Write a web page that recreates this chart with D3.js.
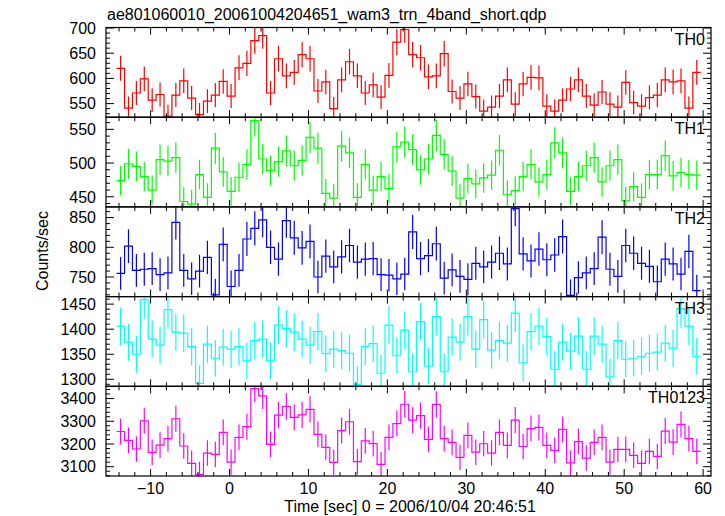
<!DOCTYPE html>
<html>
<head>
<meta charset="utf-8">
<script src="https://cdn.jsdelivr.net/npm/d3@7"></script>
<style>
  html, body { margin: 0; padding: 0; background: #fff; }
  svg { display: block; font-family: "Liberation Sans", Arial, sans-serif; }
</style>
</head>
<body>
<svg id="chart" width="725" height="516"></svg>
<script>
// ---- data ----
const title = "ae801060010_20061004204651_wam3_trn_4band_short.qdp";
const xLabel = "Time [sec] 0 = 2006/10/04 20:46:51";
const yLabel = "Counts/sec";
const timeCenters = [-13.8,-12.8,-11.8,-10.8,-9.8,-8.8,-7.8,-6.8,-5.8,-4.8,-3.8,-2.8,-1.8,-0.8,0.2,1.2,2.2,3.2,4.2,5.2,
  6.2,7.2,8.2,9.2,10.2,11.2,12.2,13.2,14.2,15.2,16.2,17.2,18.2,19.2,20.2,21.2,22.2,23.2,24.2,25.2,
  26.2,27.2,28.2,29.2,30.2,31.2,32.2,33.2,34.2,35.2,36.2,37.2,38.2,39.2,40.2,41.2,42.2,43.2,44.2,45.2,
  46.2,47.2,48.2,49.2,50.2,51.2,52.2,53.2,54.2,55.2,56.2,57.2,58.2,59.2];
const binWidth = 1;
const seriesNames = ["TH0","TH1","TH2","TH3","TH0123"];
const th0 = [620,541,571,599,557,568,525,567,595,561, 528,555,567,594,565,621,630,675,685,571,
  639,605,612,647,639,575,593,540,597,633, 605,571,587,563,606,672,697,647,641,603,
  605,649,574,561,589,564,535,543,565,597, 549,589,602,601,545,535,557,579,597,565,
  547,573,549,543,592,552,545,562,567,597, 593,595,541,612];
const th1 = [474,499,495,480,460,505,503,508,443,439, 483,449,522,487,458,479,498,563,506,489,
  502,518,496,504,538,522,455,448,525,515, 449,498,460,480,462,524,531,520,490,506,
  541,513,488,448,477,469,478,482,519,453, 459,480,498,472,483,530,515,458,480,496,
  508,472,496,505,444,465,449,483,483,511, 481,486,483,482];
const th2 = [756,802,761,763,764,754,757,842,761,747, 760,783,720,805,734,761,814,832,846,800,
  780,845,816,799,810,750,785,767,784,803, 775,780,781,754,753,747,755,826,781,786,
  806,748,762,751,746,773,767,775,790,772, 865,789,777,797,779,787,818,719,749,757,
  764,817,763,751,803,790,773,768,742,780, 772,755,793,727];
const th3 = [1406,1374,1350,1459,1380,1368,1439,1394,1392,1365, 1292,1370,1342,1364,1360,1365,1337,1377,1380,1337,
  1408,1401,1394,1380,1368,1395,1351,1360,1357,1352, 1290,1365,1371,1312,1408,1347,1398,1315,1415,1326,
  1425,1315,1384,1374,1425,1360,1419,1358,1377,1372, 1432,1333,1395,1406,1385,1320,1374,1356,1386,1320,
  1386,1370,1305,1377,1340,1342,1346,1352,1354,1372, 1362,1441,1406,1346];
const th0123 = [3255,3216,3178,3302,3163,3195,3224,3311,3191,3115, 3066,3160,3154,3251,3120,3229,3276,3444,3412,3198,
  3327,3365,3317,3328,3352,3242,3185,3119,3259,3298, 3122,3214,3202,3110,3229,3290,3375,3305,3325,3220,
  3374,3224,3207,3141,3238,3164,3201,3160,3251,3194, 3305,3189,3268,3273,3194,3172,3264,3117,3210,3138,
  3207,3229,3120,3176,3176,3150,3115,3167,3145,3257, 3208,3286,3224,3167];
const seriesValues = [th0, th1, th2, th3, th0123];
const seriesColors = ["#ff0000","#00ff00","#0000ff","#00ffff","#ff00ff"];
const yDomains = [[523,701],[435,568],[717,868],[1286,1465],[3059,3454]];
const yMajorTicks = [[550,600,650,700],[450,500,550],[750,800,850],[1300,1350,1400,1450],[3100,3200,3300,3400]];
const yMinorSteps = [10,10,10,10,20];
const xDomain = [-15.65, 61];
const xMajorTicks = [-10,0,10,20,30,40,50,60];
const xMinorTicks = [-14,-12,-8,-6,-4,-2,2,4,6,8,12,14,16,18,22,24,26,28,32,34,36,38,42,44,46,48,52,54,56,58];

// ---- layout ----
const L = 106, R = 711, T = 27.5, B = 476;
const nP = seriesNames.length;
const pH = (B - T) / nP;
const svg = d3.select("#chart");
const x = d3.scaleLinear().domain(xDomain).range([L, R]);

svg.append("text").attr("x", 107).attr("y", 20).attr("font-size", 16).text(title);

seriesNames.forEach((name, p) => {
  const y0 = T + p * pH, y1 = y0 + pH;
  const y = d3.scaleLinear().domain(yDomains[p]).range([y1, y0]);
  const vals = seriesValues[p];
  const col = seriesColors[p];
  const g = svg.append("g");
  const clipId = "clip" + p;
  svg.append("clipPath").attr("id", clipId).append("rect")
    .attr("x", L).attr("y", y0).attr("width", R - L).attr("height", pH);
  const pg = g.append("g").attr("clip-path", `url(#${clipId})`);

  // error bars (Poisson, 1-s bins)
  pg.selectAll("line.err").data(vals).join("line")
    .attr("x1", (v, i) => x(timeCenters[i])).attr("x2", (v, i) => x(timeCenters[i]))
    .attr("y1", v => y(v - Math.sqrt(v))).attr("y2", v => y(v + Math.sqrt(v)))
    .attr("stroke", col).attr("stroke-width", 1.2);

  // step histogram
  const pts = [];
  vals.forEach((v, i) => {
    pts.push([timeCenters[i] - binWidth / 2, v]);
    pts.push([timeCenters[i] + binWidth / 2, v]);
  });
  pg.append("path").datum(pts)
    .attr("d", d3.line().x(d => x(d[0])).y(d => y(d[1])))
    .attr("fill", "none").attr("stroke", col).attr("stroke-width", 1.2);

  // y ticks (left & right, inward)
  const [ymin, ymax] = yDomains[p];
  const step = yMinorSteps[p];
  const minors = d3.range(Math.ceil(ymin / step) * step, ymax + 0.001, step)
    .filter(v => !yMajorTicks[p].includes(v));
  const tk = g.append("g").attr("stroke", "#000").attr("stroke-width", 1);
  minors.forEach(v => {
    tk.append("line").attr("x1", L).attr("x2", L + 4).attr("y1", y(v)).attr("y2", y(v));
    tk.append("line").attr("x1", R).attr("x2", R - 4).attr("y1", y(v)).attr("y2", y(v));
  });
  yMajorTicks[p].forEach(v => {
    tk.append("line").attr("x1", L).attr("x2", L + 8).attr("y1", y(v)).attr("y2", y(v));
    tk.append("line").attr("x1", R).attr("x2", R - 8).attr("y1", y(v)).attr("y2", y(v));
    g.append("text").attr("x", L - 10).attr("y", y(v)).attr("dy", "0.36em")
      .attr("text-anchor", "end").attr("font-size", 16).text(v);
  });
  // x ticks top & bottom of each panel, inward
  xMinorTicks.forEach(t => {
    tk.append("line").attr("x1", x(t)).attr("x2", x(t)).attr("y1", y0).attr("y2", y0 + 4);
    tk.append("line").attr("x1", x(t)).attr("x2", x(t)).attr("y1", y1).attr("y2", y1 - 4);
  });
  xMajorTicks.forEach(t => {
    tk.append("line").attr("x1", x(t)).attr("x2", x(t)).attr("y1", y0).attr("y2", y0 + 7);
    tk.append("line").attr("x1", x(t)).attr("x2", x(t)).attr("y1", y1).attr("y2", y1 - 7);
  });

  // frame
  g.append("rect").attr("x", L).attr("y", y0).attr("width", R - L).attr("height", pH)
    .attr("fill", "none").attr("stroke", "#000").attr("stroke-width", 1.2);

  // panel label
  g.append("text").attr("x", 705).attr("y", y0 + 17).attr("text-anchor", "end")
    .attr("font-size", 16).text(name);
});

// x tick labels
xMajorTicks.forEach(t => {
  svg.append("text").attr("x", x(t)).attr("y", 494).attr("text-anchor", "middle")
    .attr("font-size", 16).text(t < 0 ? "\u2212" + Math.abs(t) : t);
});
svg.append("text").attr("x", 410).attr("y", 512).attr("text-anchor", "middle")
  .attr("font-size", 16).text(xLabel);
svg.append("text").attr("transform", "translate(48,251) rotate(-90)")
  .attr("text-anchor", "middle").attr("font-size", 16).text(yLabel);
</script>
</body>
</html>
